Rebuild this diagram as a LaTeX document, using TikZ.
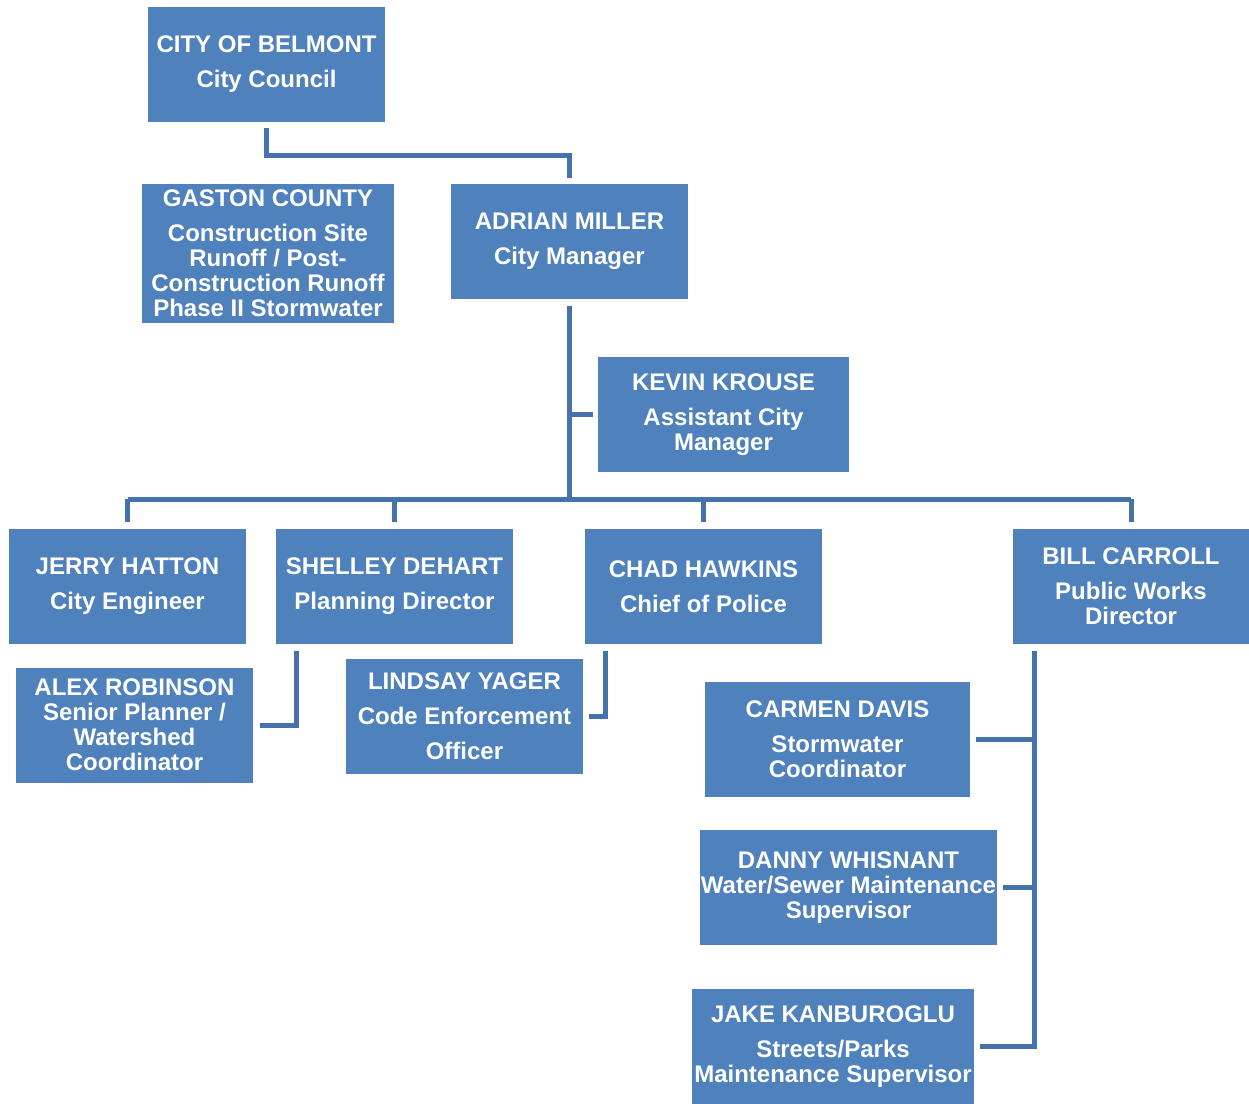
\documentclass[tikz,border=0pt]{standalone}
\usepackage{fontspec}
\setmainfont{Liberation Sans}
\definecolor{boxfill}{HTML}{4F81BD}
\definecolor{linkcol}{HTML}{4672AC}
\begin{document}
\begin{tikzpicture}[x=0.75pt,y=-0.75pt,
  box/.style={fill=boxfill, text=white, align=center, inner sep=0pt,
    font=\bfseries\fontsize{18pt}{18.75pt}\selectfont,
    minimum width=177.75pt, minimum height=86.25pt},
  link/.style={draw=linkcol, line width=3.75pt}]
\useasboundingbox (0,0) rectangle (1249,1103);
\draw (266.5, 64) node[box] (a) {CITY OF BELMONT\\[7.5pt]City Council};
\draw (268, 253.5) node[box, minimum width=189pt, minimum height=104.25pt] (b) {GASTON COUNTY\\[7.5pt]Construction Site\\Runoff / Post-\\Construction Runoff\\Phase II Stormwater};
\draw (569.5, 241.5) node[box] (c) {ADRIAN MILLER\\[7.5pt]City Manager};
\draw (723.5, 414.5) node[box, minimum width=188.25pt] (d) {KEVIN KROUSE\\[7.5pt]Assistant City\\Manager};
\draw (127.5, 586.5) node[box] (e) {JERRY HATTON\\[7.5pt]City Engineer};
\draw (394.5, 586.5) node[box] (f) {SHELLEY DEHART\\[7.5pt]Planning Director};
\draw (703.5, 586.5) node[box] (g) {CHAD HAWKINS\\[7.5pt]Chief of Police};
\draw (1131, 586.5) node[box, minimum width=177pt] (h) {BILL CARROLL\\[7.5pt]Public Works\\Director};
\draw (134.5, 725) node[box] (i) {ALEX ROBINSON\\Senior Planner /\\Watershed\\Coordinator};
\draw (464.5, 716.5) node[box] (j) {LINDSAY YAGER\\[7.5pt]Code Enforcement\\[7.5pt]Officer};
\draw (837.5, 739.5) node[box, minimum width=198.75pt] (k) {CARMEN DAVIS\\[7.5pt]Stormwater\\Coordinator};
\draw (848.5, 887.5) node[box, minimum width=222.75pt] (l) {DANNY WHISNANT\\Water/Sewer Maintenance\\Supervisor};
\draw (833, 1046.5) node[box, minimum width=211.5pt] (m) {JAKE KANBUROGLU\\[7.5pt]Streets/Parks\\Maintenance Supervisor};
\coordinate (bus) at (569.5, 499);
\coordinate (hdrop) at ([shift={(22,7)}]h.south west);
\draw[link] ([yshift=-4.5pt]a.south) -- ++(0,28) -| ([yshift=4.5pt]c.north);
\draw[link] ([yshift=-5.25pt]c.south) -- (bus);
\draw[link] ([xshift=-3.75pt]d.west) -- (d.west -| bus);
\draw[link] (e.north |- bus) -- (h.north |- bus);
\foreach \n in {e,f,g,h}
  \draw[link] (\n.north |- bus) -- ([yshift=5.25pt]\n.north);
\draw[link] ([shift={(21,7)}]f.south west) |- ([xshift=5.25pt]i.east);
\draw[link] ([shift={(21,7)}]g.south west) |- ([xshift=4.5pt]j.east);
\draw[link] (hdrop) |- ([xshift=4.5pt]m.east);
\draw[link] ([xshift=4.5pt]k.east) -- (k.east -| hdrop);
\draw[link] ([xshift=4.5pt]l.east) -- (l.east -| hdrop);
\end{tikzpicture}
\end{document}
